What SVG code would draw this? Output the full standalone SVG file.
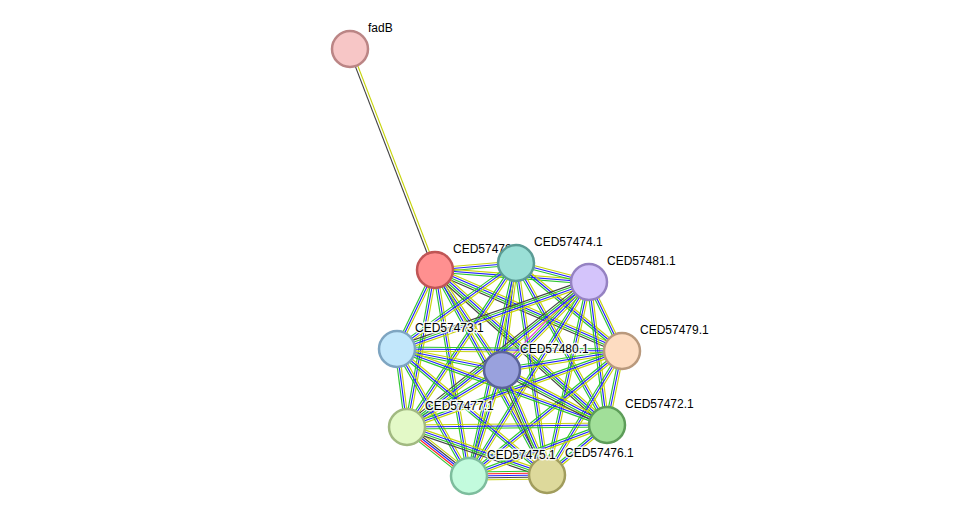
<svg xmlns="http://www.w3.org/2000/svg" xmlns:xlink="http://www.w3.org/1999/xlink" width="976" height="522" viewBox="0 0 976 522">
<style>
.e use,.e line{fill:none;stroke-width:1.15}
.y{stroke:#c6d40a}.b{stroke:#2222ff}.g{stroke:#2ec62e}.k{stroke:#444444}.r{stroke:#ff2222}.m{stroke:#e030e0}
.n circle{stroke-width:2.5}
.n text{font-family:"Liberation Sans",Arial,sans-serif;font-size:12px;fill:#000;stroke:#fff;stroke-width:3;stroke-opacity:0.85;paint-order:stroke;stroke-linejoin:round}
</style>
<defs>
<line id="bc" x1="435" y1="270" x2="516" y2="263"/>
<line id="bd" x1="435" y1="270" x2="589" y2="282"/>
<line id="be" x1="435" y1="270" x2="622" y2="351"/>
<line id="bf" x1="435" y1="270" x2="397" y2="349"/>
<line id="bg" x1="435" y1="270" x2="502" y2="370"/>
<line id="bh" x1="435" y1="270" x2="407" y2="427"/>
<line id="bi" x1="435" y1="270" x2="607" y2="425"/>
<line id="bj" x1="435" y1="270" x2="469" y2="476"/>
<line id="bk" x1="435" y1="270" x2="547" y2="475"/>
<line id="cd" x1="516" y1="263" x2="589" y2="282"/>
<line id="ce" x1="516" y1="263" x2="622" y2="351"/>
<line id="cf" x1="516" y1="263" x2="397" y2="349"/>
<line id="cg" x1="516" y1="263" x2="502" y2="370"/>
<line id="ch" x1="516" y1="263" x2="407" y2="427"/>
<line id="ci" x1="516" y1="263" x2="607" y2="425"/>
<line id="cj" x1="516" y1="263" x2="469" y2="476"/>
<line id="ck" x1="516" y1="263" x2="547" y2="475"/>
<line id="de" x1="589" y1="282" x2="622" y2="351"/>
<line id="df" x1="589" y1="282" x2="397" y2="349"/>
<line id="dg" x1="589" y1="282" x2="502" y2="370"/>
<line id="dh" x1="589" y1="282" x2="407" y2="427"/>
<line id="di" x1="589" y1="282" x2="607" y2="425"/>
<line id="dj" x1="589" y1="282" x2="469" y2="476"/>
<line id="dk" x1="589" y1="282" x2="547" y2="475"/>
<line id="ef" x1="622" y1="351" x2="397" y2="349"/>
<line id="eg" x1="622" y1="351" x2="502" y2="370"/>
<line id="eh" x1="622" y1="351" x2="407" y2="427"/>
<line id="ei" x1="622" y1="351" x2="607" y2="425"/>
<line id="ej" x1="622" y1="351" x2="469" y2="476"/>
<line id="ek" x1="622" y1="351" x2="547" y2="475"/>
<line id="fg" x1="397" y1="349" x2="502" y2="370"/>
<line id="fh" x1="397" y1="349" x2="407" y2="427"/>
<line id="fi" x1="397" y1="349" x2="607" y2="425"/>
<line id="fj" x1="397" y1="349" x2="469" y2="476"/>
<line id="fk" x1="397" y1="349" x2="547" y2="475"/>
<line id="gh" x1="502" y1="370" x2="407" y2="427"/>
<line id="gi" x1="502" y1="370" x2="607" y2="425"/>
<line id="gj" x1="502" y1="370" x2="469" y2="476"/>
<line id="gk" x1="502" y1="370" x2="547" y2="475"/>
<line id="hi" x1="407" y1="427" x2="607" y2="425"/>
<line id="hj" x1="407" y1="427" x2="469" y2="476"/>
<line id="hk" x1="407" y1="427" x2="547" y2="475"/>
<line id="ij" x1="607" y1="425" x2="469" y2="476"/>
<line id="ik" x1="607" y1="425" x2="547" y2="475"/>
<line id="jk" x1="469" y1="476" x2="547" y2="475"/>
</defs>
<g id="connectors" class="e">
<line class="k" x1="348.8" y1="49.4" x2="433.8" y2="270.4"/>
<line class="y" x1="351.2" y1="48.6" x2="436.2" y2="269.6"/>
<use href="#bc" class="y" transform="translate(-0.17,-1.99)"/><use href="#bc" class="b"/><use href="#bc" class="g" transform="translate(0.17,1.99)"/>
<use href="#bd" class="y" transform="translate(0.16,-1.99)"/><use href="#bd" class="b"/><use href="#bd" class="g" transform="translate(-0.16,1.99)"/>
<use href="#be" class="y" transform="translate(1.19,-2.76)"/><use href="#be" class="b" transform="translate(0.4,-0.92)"/><use href="#be" class="g" transform="translate(-0.4,0.92)"/><use href="#be" class="k" transform="translate(-1.19,2.76)"/>
<use href="#bf" class="y" transform="translate(1.8,0.87)"/><use href="#bf" class="b"/><use href="#bf" class="g" transform="translate(-1.8,-0.87)"/>
<use href="#bg" class="y" transform="translate(1.66,-1.11)"/><use href="#bg" class="b"/><use href="#bg" class="g" transform="translate(-1.66,1.11)"/>
<use href="#bh" class="y" transform="translate(1.97,0.35)"/><use href="#bh" class="b"/><use href="#bh" class="g" transform="translate(-1.97,-0.35)"/>
<use href="#bi" class="y" transform="translate(2.01,-2.24)"/><use href="#bi" class="b" transform="translate(0.67,-0.75)"/><use href="#bi" class="g" transform="translate(-0.67,0.75)"/><use href="#bi" class="k" transform="translate(-2.01,2.24)"/>
<use href="#bj" class="y" transform="translate(1.97,-0.33)"/><use href="#bj" class="b"/><use href="#bj" class="g" transform="translate(-1.97,0.33)"/>
<use href="#bk" class="y" transform="translate(1.76,-0.96)"/><use href="#bk" class="b"/><use href="#bk" class="g" transform="translate(-1.76,0.96)"/>
<use href="#cd" class="y" transform="translate(0.5,-1.94)"/><use href="#cd" class="b"/><use href="#cd" class="g" transform="translate(-0.5,1.94)"/>
<use href="#ce" class="y" transform="translate(1.28,-1.54)"/><use href="#ce" class="b"/><use href="#ce" class="g" transform="translate(-1.28,1.54)"/>
<use href="#cf" class="y" transform="translate(1.17,1.62)"/><use href="#cf" class="b"/><use href="#cf" class="g" transform="translate(-1.17,-1.62)"/>
<use href="#cg" class="y" transform="translate(1.98,0.26)"/><use href="#cg" class="b"/><use href="#cg" class="g" transform="translate(-1.98,-0.26)"/>
<use href="#ch" class="y" transform="translate(1.67,1.11)"/><use href="#ch" class="b"/><use href="#ch" class="g" transform="translate(-1.67,-1.11)"/>
<use href="#ci" class="y" transform="translate(1.74,-0.98)"/><use href="#ci" class="b"/><use href="#ci" class="g" transform="translate(-1.74,0.98)"/>
<use href="#cj" class="y" transform="translate(1.95,0.43)"/><use href="#cj" class="b"/><use href="#cj" class="g" transform="translate(-1.95,-0.43)"/>
<use href="#ck" class="y" transform="translate(1.98,-0.29)"/><use href="#ck" class="b"/><use href="#ck" class="g" transform="translate(-1.98,0.29)"/>
<use href="#de" class="y" transform="translate(1.8,-0.86)"/><use href="#de" class="b"/><use href="#de" class="g" transform="translate(-1.8,0.86)"/>
<use href="#df" class="y" transform="translate(0.99,2.84)"/><use href="#df" class="b" transform="translate(0.33,0.95)"/><use href="#df" class="g" transform="translate(-0.33,-0.95)"/><use href="#df" class="k" transform="translate(-0.99,-2.84)"/>
<use href="#dg" class="y" transform="translate(2.13,2.12)"/><use href="#dg" class="b" transform="translate(0.71,0.71)"/><use href="#dg" class="g" transform="translate(-0.71,-0.71)"/><use href="#dg" class="m" transform="translate(-2.13,-2.12)"/>
<use href="#dh" class="y" transform="translate(1.88,2.34)"/><use href="#dh" class="b" transform="translate(0.63,0.78)"/><use href="#dh" class="g" transform="translate(-0.63,-0.78)"/><use href="#dh" class="k" transform="translate(-1.88,-2.34)"/>
<use href="#di" class="y" transform="translate(1.98,-0.25)"/><use href="#di" class="b"/><use href="#di" class="g" transform="translate(-1.98,0.25)"/>
<use href="#dj" class="y" transform="translate(1.7,1.05)"/><use href="#dj" class="b"/><use href="#dj" class="g" transform="translate(-1.7,-1.05)"/>
<use href="#dk" class="y" transform="translate(1.95,0.43)"/><use href="#dk" class="b"/><use href="#dk" class="g" transform="translate(-1.95,-0.43)"/>
<use href="#ef" class="y" transform="translate(-0.02,2)"/><use href="#ef" class="b"/><use href="#ef" class="g" transform="translate(0.02,-2)"/>
<use href="#eg" class="y" transform="translate(0.31,1.98)"/><use href="#eg" class="b"/><use href="#eg" class="g" transform="translate(-0.31,-1.98)"/>
<use href="#eh" class="y" transform="translate(0.67,1.89)"/><use href="#eh" class="b"/><use href="#eh" class="g" transform="translate(-0.67,-1.89)"/>
<use href="#ei" class="y" transform="translate(1.96,0.4)"/><use href="#ei" class="b"/><use href="#ei" class="g" transform="translate(-1.96,-0.4)"/>
<use href="#ej" class="y" transform="translate(1.27,1.55)"/><use href="#ej" class="b"/><use href="#ej" class="g" transform="translate(-1.27,-1.55)"/>
<use href="#ek" class="y" transform="translate(1.71,1.04)"/><use href="#ek" class="b"/><use href="#ek" class="g" transform="translate(-1.71,-1.04)"/>
<use href="#fg" class="y" transform="translate(0.39,-1.96)"/><use href="#fg" class="b"/><use href="#fg" class="g" transform="translate(-0.39,1.96)"/>
<use href="#fh" class="y" transform="translate(1.98,-0.25)"/><use href="#fh" class="b"/><use href="#fh" class="g" transform="translate(-1.98,0.25)"/>
<use href="#fi" class="y" transform="translate(0.68,-1.88)"/><use href="#fi" class="b"/><use href="#fi" class="g" transform="translate(-0.68,1.88)"/>
<use href="#fj" class="y" transform="translate(1.74,-0.99)"/><use href="#fj" class="b"/><use href="#fj" class="g" transform="translate(-1.74,0.99)"/>
<use href="#fk" class="y" transform="translate(1.29,-1.53)"/><use href="#fk" class="b"/><use href="#fk" class="g" transform="translate(-1.29,1.53)"/>
<use href="#gh" class="y" transform="translate(1.03,1.71)"/><use href="#gh" class="b"/><use href="#gh" class="g" transform="translate(-1.03,-1.71)"/>
<use href="#gi" class="y" transform="translate(1.4,-2.66)"/><use href="#gi" class="b" transform="translate(0.47,-0.89)"/><use href="#gi" class="g" transform="translate(-0.47,0.89)"/><use href="#gi" class="k" transform="translate(-1.4,2.66)"/>
<use href="#gj" class="y" transform="translate(1.91,0.59)"/><use href="#gj" class="b"/><use href="#gj" class="g" transform="translate(-1.91,-0.59)"/>
<use href="#gk" class="y" transform="translate(2.76,-1.19)"/><use href="#gk" class="b" transform="translate(0.92,-0.4)"/><use href="#gk" class="g" transform="translate(-0.92,0.4)"/><use href="#gk" class="k" transform="translate(-2.76,1.19)"/>
<use href="#hi" class="y" transform="translate(-0.02,-2)"/><use href="#hi" class="b"/><use href="#hi" class="g" transform="translate(0.02,2)"/>
<use href="#hj" class="y" transform="translate(2.48,-3.14)"/><use href="#hj" class="k" transform="translate(1.24,-1.57)"/><use href="#hj" class="b"/><use href="#hj" class="r" transform="translate(-1.24,1.57)"/><use href="#hj" class="g" transform="translate(-2.48,3.14)"/>
<use href="#hk" class="y" transform="translate(0.98,-2.84)"/><use href="#hk" class="b" transform="translate(0.33,-0.95)"/><use href="#hk" class="g" transform="translate(-0.33,0.95)"/><use href="#hk" class="k" transform="translate(-0.98,2.84)"/>
<use href="#ij" class="y" transform="translate(0.69,1.88)"/><use href="#ij" class="b"/><use href="#ij" class="g" transform="translate(-0.69,-1.88)"/>
<use href="#ik" class="y" transform="translate(1.28,1.54)"/><use href="#ik" class="b"/><use href="#ik" class="g" transform="translate(-1.28,-1.54)"/>
<use href="#jk" class="g" transform="translate(-0.06,-4)"/><use href="#jk" class="r" transform="translate(-0.03,-2)"/><use href="#jk" class="b"/><use href="#jk" class="k" transform="translate(0.03,2)"/><use href="#jk" class="y" transform="translate(0.06,4)"/>
</g>
<g id="fadB" class="n"><circle cx="350" cy="49" r="18" fill="#f7c6c6" stroke="#bb8585"/><text x="368" y="32">fadB</text></g>
<g id="CED57478.1" class="n"><circle cx="435" cy="270" r="18" fill="#ff9090" stroke="#c05555"/><text x="453" y="253">CED57478.1</text></g>
<g id="CED57474.1" class="n"><circle cx="516" cy="263" r="18" fill="#9adfd6" stroke="#5b9c95"/><text x="534" y="246">CED57474.1</text></g>
<g id="CED57481.1" class="n"><circle cx="589" cy="282" r="18" fill="#d4c4fb" stroke="#9582c2"/><text x="607" y="265">CED57481.1</text></g>
<g id="CED57479.1" class="n"><circle cx="622" cy="351" r="18" fill="#fddcc1" stroke="#b9997d"/><text x="640" y="334">CED57479.1</text></g>
<g id="CED57473.1" class="n"><circle cx="397" cy="349" r="18" fill="#c2e7fb" stroke="#7ea5c1"/><text x="415" y="332">CED57473.1</text></g>
<g id="CED57480.1" class="n"><circle cx="502" cy="370" r="18" fill="#99a1dd" stroke="#5b6399"/><text x="520" y="353">CED57480.1</text></g>
<g id="CED57477.1" class="n"><circle cx="407" cy="427" r="18" fill="#e3f9c7" stroke="#a1b981"/><text x="425" y="410">CED57477.1</text></g>
<g id="CED57472.1" class="n"><circle cx="607" cy="425" r="18" fill="#a1df99" stroke="#5d9d59"/><text x="625" y="408">CED57472.1</text></g>
<g id="CED57476.1" class="n"><circle cx="547" cy="475" r="18" fill="#ddd99b" stroke="#a19d5d"/><text x="565" y="457">CED57476.1</text></g>
<g id="CED57475.1" class="n"><circle cx="469" cy="476" r="18" fill="#c2fbdd" stroke="#7dbd9d"/><text x="487" y="459">CED57475.1</text></g>
</svg>
